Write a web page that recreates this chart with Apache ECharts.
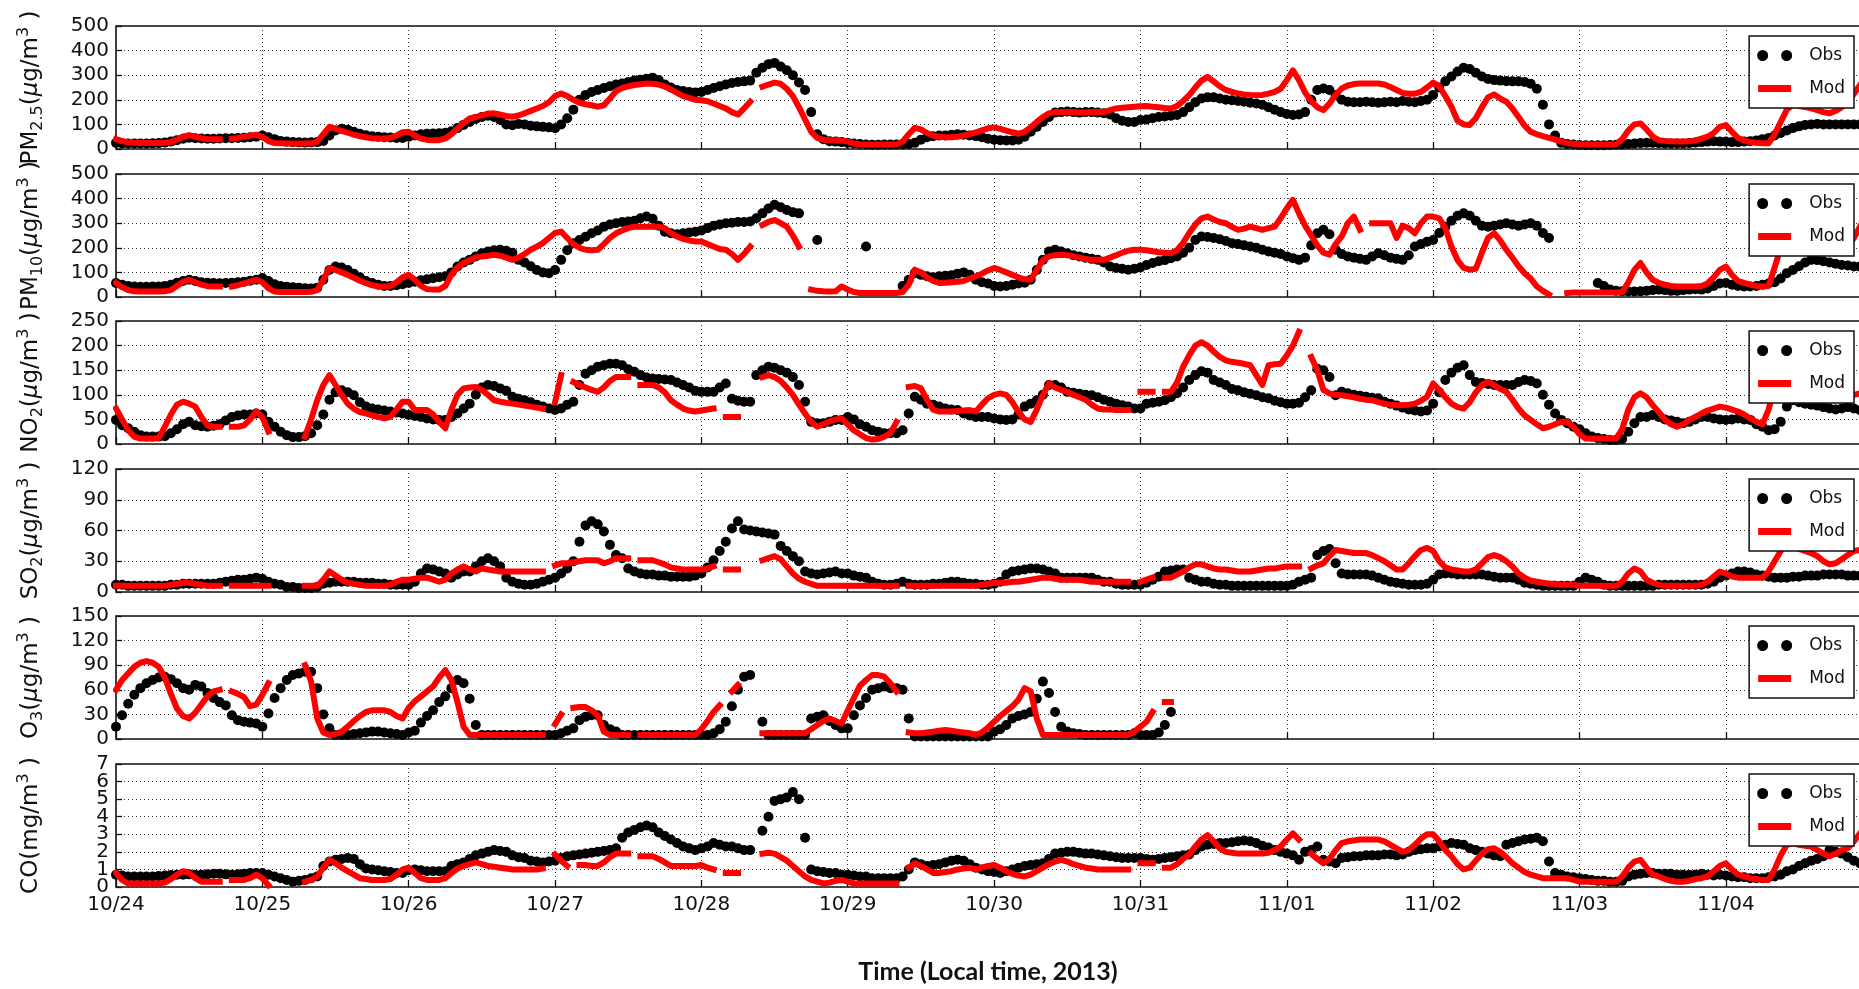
<!DOCTYPE html>
<html><head><meta charset="utf-8">
<script src="https://cdn.jsdelivr.net/npm/echarts@6/dist/echarts.min.js"></script>
<style>html,body{margin:0;padding:0;background:#fff}#c{width:1859px;height:989px}</style>
</head><body><div id="c"></div>
<script>
// x tick labels (one per day, ticks every 24 h)
const dayLabels = ['10/24','10/25','10/26','10/27','10/28','10/29','10/30','10/31','11/01','11/02','11/03','11/04'];

// hourly values, one row per day (hour 0..23)
const obsPM25 = [
[25,23,22,22,22,22,23,24,26,30,36,42,46,44,43,42,42,43,44,44,45,46,48,50],
[55,48,40,33,30,28,27,26,27,28,33,55,75,82,78,70,62,56,52,50,48,47,45,45],
[50,55,60,62,63,64,66,72,85,98,110,122,130,135,130,118,100,97,102,100,95,92,90,88],
[84,100,125,160,200,220,232,240,248,255,262,266,272,278,282,286,290,280,262,250,240,236,232,230],
[232,240,248,255,262,268,272,275,278,310,330,345,350,335,320,300,270,240,150,60,40,32,30,28],
[25,22,20,18,17,17,18,18,18,19,20,25,38,48,52,55,55,58,60,58,55,52,48,42],
[38,36,35,35,38,50,70,90,110,130,148,150,152,150,148,150,150,148,145,140,125,115,110,110],
[118,120,125,130,132,135,138,150,170,190,205,210,210,205,200,198,195,192,188,185,180,170,160,150],
[142,138,140,150,200,240,246,240,220,200,192,190,190,192,190,188,190,192,190,195,192,190,195,200],
[220,250,275,295,315,330,325,310,295,285,280,278,276,275,275,272,265,245,180,100,55,25,20,18],
[16,15,15,15,15,16,17,18,20,22,24,25,25,24,23,22,22,22,24,26,28,30,32,30],
[30,28,28,30,32,35,40,45,55,65,75,85,92,98,100,102,100,100,100,100,100,100,100]];
const modPM25 = [
[40,32,27,25,24,24,24,24,25,28,38,50,56,50,44,41,40,40,null,42,45,50,55,57],
[50,32,24,23,22,22,22,22,23,30,60,90,82,74,66,58,52,48,44,43,43,46,55,68],
[70,55,42,37,36,36,43,60,84,105,124,130,137,143,145,140,134,131,136,145,155,165,175,190],
[215,226,215,200,188,182,178,172,178,205,235,248,255,260,263,266,265,262,255,242,228,215,208,200],
[198,194,185,175,165,150,140,165,192,null,253,262,270,265,245,215,170,120,70,45,38,36,36,34],
[30,22,19,18,18,18,18,18,19,30,60,86,80,65,55,50,48,48,50,55,60,68,76,84],
[88,82,75,68,62,70,88,110,130,145,150,150,150,150,148,148,150,150,150,158,165,168,170,172],
[174,175,172,170,167,165,175,195,219,250,278,293,275,255,240,232,226,222,220,219,220,225,232,245],
[280,320,280,230,195,170,158,185,220,246,258,264,266,266,266,266,262,252,240,228,225,225,232,250],
[270,255,215,172,115,100,98,125,170,210,222,205,192,165,130,95,70,60,52,45,38,30,25,21],
[19,19,18,18,18,18,19,40,75,100,104,80,50,36,33,31,30,30,31,35,42,50,65,90],
[97,70,45,35,28,25,23,23,60,110,160,181,175,170,165,158,150,145,155,170,190,225,260]];

const obsPM10 = [
[57,50,45,43,42,42,43,43,45,50,58,65,70,65,60,58,57,56,57,58,60,62,66,70],
[77,65,52,45,42,40,38,36,35,38,70,110,124,120,110,95,80,65,57,50,45,45,48,52],
[57,62,68,72,76,80,84,100,124,140,151,165,178,185,190,192,188,180,151,140,125,110,100,97],
[110,151,190,219,232,245,259,270,286,295,300,305,307,310,320,327,318,290,265,259,255,259,262,265],
[270,280,290,295,300,302,305,305,307,320,340,360,375,365,354,345,340,null,null,232,null,null,null,null],
[null,null,null,205,null,null,null,null,null,45,70,97,90,84,80,84,86,88,95,100,90,70,60,55],
[45,43,45,50,55,58,70,110,151,185,192,185,178,170,165,160,155,151,140,124,118,115,111,115],
[120,130,138,145,150,158,165,180,200,232,246,244,240,235,228,219,215,210,205,200,192,185,180,175],
[165,158,151,160,210,259,273,255,192,175,165,160,155,151,165,178,170,160,155,151,170,205,215,225],
[232,260,286,310,330,340,330,310,290,286,290,295,300,295,290,295,300,290,260,240,null,null,null,null],
[null,null,null,57,45,30,25,23,22,22,23,25,28,30,28,25,25,28,30,32,30,35,45,55],
[57,50,45,43,43,45,50,55,60,75,97,110,125,140,151,150,145,140,135,130,128,124,124]];
const modPM10 = [
[57,40,28,23,22,22,22,22,23,28,45,62,70,60,50,44,43,43,null,43,48,55,63,70],
[60,35,22,20,20,20,20,20,21,28,70,118,110,100,90,78,66,56,48,44,43,45,60,80],
[90,70,45,32,30,30,45,90,120,138,150,160,165,168,172,168,160,151,160,175,192,205,219,240],
[260,266,240,215,200,192,190,192,215,240,259,270,280,286,286,286,286,286,280,260,246,236,230,226],
[226,215,205,195,192,175,151,175,205,null,293,305,313,300,286,250,205,null,30,25,23,22,23,43],
[30,20,16,16,16,16,16,16,16,20,50,111,100,80,65,57,58,60,62,65,75,84,95,108],
[118,110,100,90,80,72,70,110,150,165,170,172,170,165,160,155,151,151,151,160,170,180,188,192],
[192,190,186,182,180,178,190,220,260,295,320,327,315,305,300,285,273,278,286,280,273,280,286,320],
[360,395,340,290,250,210,180,172,215,246,300,327,273,null,300,300,300,300,240,290,280,259,300,327],
[327,320,280,205,150,118,111,115,180,240,259,230,192,160,125,97,75,43,25,10,null,null,16,18],
[18,18,18,18,18,18,18,20,60,110,138,100,70,57,50,45,43,43,43,43,45,55,80,110],
[124,90,65,57,50,45,43,45,120,200,246,235,225,215,205,195,185,178,190,200,205,240,286]];

const obsNO2 = [
[49,38,32,25,18,15,15,15,16,22,30,40,45,38,36,35,37,40,48,55,58,60,60,62],
[60,45,35,25,18,14,14,16,22,38,60,90,105,109,105,99,85,76,72,70,68,66,64,62],
[59,57,55,52,50,49,49,55,62,72,82,100,115,120,118,113,108,96,92,89,85,80,76,72],
[69,72,80,86,120,143,150,157,160,163,163,160,152,147,140,135,133,132,131,130,125,120,115,108],
[106,106,106,115,123,92,88,86,86,140,150,157,155,150,145,136,120,86,45,42,42,45,49,49],
[55,50,40,35,28,25,22,22,22,28,62,96,90,82,80,76,72,70,69,62,58,55,55,55],
[52,50,49,50,60,76,82,89,100,120,120,115,106,104,102,100,99,95,90,86,82,79,76,72],
[72,82,84,86,89,95,103,115,130,140,148,145,130,125,120,112,109,105,102,99,95,93,88,85],
[82,82,84,95,109,153,150,136,99,106,103,100,98,96,94,93,86,82,78,74,70,68,66,68],
[82,105,130,145,155,160,140,126,124,122,120,120,120,120,126,130,128,123,100,80,62,49,42,35],
[30,22,15,12,10,8,8,10,25,42,55,55,59,55,50,48,45,42,45,50,55,55,52,50],
[49,50,52,50,49,40,35,28,30,45,76,89,85,82,80,78,75,72,70,72,75,72,69]];
const modNO2 = [
[72,50,28,15,11,11,11,12,35,60,80,86,82,76,55,38,35,35,null,35,35,38,50,66],
[55,25,null,null,null,null,null,15,50,89,120,140,120,100,82,72,65,62,58,55,52,55,70,86],
[86,69,69,69,60,45,32,70,100,113,115,116,110,100,89,86,84,82,80,78,76,74,72,null],
[85,140,null,126,120,115,110,106,115,128,136,136,136,null,120,120,120,115,105,89,80,72,68,66],
[68,70,72,null,55,55,55,null,null,null,136,140,136,128,115,100,80,62,45,35,40,46,50,52],
[40,28,20,12,9,10,15,22,45,null,116,118,113,90,70,66,66,66,67,68,69,66,80,93],
[100,103,100,85,65,50,45,70,100,123,115,110,106,100,95,90,80,72,70,70,69,69,69,null],
[106,106,106,null,106,106,125,157,180,200,207,200,188,177,170,167,165,163,160,140,120,160,162,163],
[180,200,228,null,177,150,110,103,100,99,97,95,92,90,89,85,82,80,79,79,80,82,88,96],
[123,110,95,82,75,72,85,105,120,126,120,112,106,90,72,58,49,40,32,35,40,45,45,35],
[20,11,11,11,11,11,11,30,70,95,103,95,79,65,50,40,35,40,49,55,62,68,72,76],
[74,70,66,60,52,45,40,70,116,120,123,115,100,89,89,89,89,89,89,92,96,100,103]];

const obsSO2 = [
[7,7,6,6,6,6,6,6,6,7,7,8,8,8,8,8,8,9,10,11,12,12,13,14],
[13,10,8,7,5,5,4,4,4,5,8,9,10,10,10,10,9,9,9,8,8,7,7,7],
[7,10,18,23,22,20,18,14,17,20,20,25,30,33,30,25,14,10,8,7,7,8,10,12],
[14,18,23,30,49,65,69,66,59,46,36,33,23,20,18,17,17,16,16,15,15,15,15,16],
[18,24,31,40,49,62,69,61,60,59,58,57,56,45,40,35,30,20,18,17,18,19,20,18],
[18,16,15,14,10,8,7,7,8,10,8,7,7,7,8,8,9,10,10,9,8,8,7,7],
[8,10,17,20,21,22,23,23,22,20,18,14,14,14,14,14,14,12,10,10,8,7,7,7],
[7,9,12,15,20,21,22,22,14,12,10,10,8,7,7,6,6,6,6,6,6,6,6,6],
[6,7,10,12,14,36,40,42,28,18,17,17,17,17,16,14,12,10,9,8,7,7,7,8],
[12,17,18,18,17,17,17,17,17,16,15,14,14,14,12,9,8,7,6,6,6,6,6,6],
[10,14,12,10,7,6,6,6,6,6,6,6,6,7,7,7,7,7,7,7,7,8,10,14],
[16,18,20,20,19,17,16,15,14,14,14,15,15,16,16,16,17,17,17,17,16,16,16]];
const modSO2 = [
[6,6,6,6,6,6,6,6,6,7,8,9,9,8,7,6,6,6,null,6,6,6,6,6],
[6,6,null,null,null,null,null,6,6,6,12,20,16,12,9,8,7,6,6,6,6,7,10,12],
[12,13,14,14,12,10,12,18,22,25,22,20,23,22,21,20,20,20,20,20,20,20,20,null],
[26,28,28,29,30,31,31,31,28,30,33,33,33,null,31,31,31,29,27,24,23,22,22,22],
[22,23,25,null,22,22,22,null,null,null,31,33,35,32,25,18,13,10,8,6,6,6,6,6],
[6,6,6,6,6,6,6,6,6,null,6,6,6,6,6,6,6,6,6,6,6,6,7,8],
[9,9,9,10,10,11,12,13,14,14,13,12,12,12,12,11,10,10,10,10,10,10,10,null],
[10,12,14,null,14,14,17,20,24,27,27,25,23,22,22,21,20,20,20,21,22,23,23,24],
[25,25,25,null,23,26,28,35,41,40,39,38,38,38,36,33,30,26,22,22,28,35,41,43],
[40,30,24,22,21,20,20,22,28,34,36,34,30,25,18,14,11,10,9,8,8,7,7,7],
[6,6,6,6,6,6,6,10,18,23,20,12,9,7,6,6,6,6,6,6,7,10,15,20],
[18,15,14,14,14,14,14,20,30,40,46,44,42,40,38,35,30,27,28,32,36,40,41]];

const obsO3 = [
[15,29,43,54,62,68,72,75,76,73,68,62,60,66,64,56,50,45,41,29,23,21,20,19],
[15,31,50,62,72,78,80,82,82,62,30,13,5,5,5,6,7,8,9,9,8,7,6,5],
[8,10,20,28,35,45,52,62,72,68,49,17,5,5,5,5,5,5,5,5,5,5,5,5],
[5,7,10,13,23,27,29,29,17,12,9,5,5,5,5,5,5,5,5,5,5,5,5,5],
[5,5,7,12,21,40,60,76,78,null,21,5,5,5,5,5,5,5,25,27,29,22,17,13],
[13,29,41,50,60,62,64,62,62,60,25,3,3,3,3,3,3,3,3,3,3,3,3,3],
[9,12,17,25,28,30,33,49,70,56,33,15,9,7,6,5,5,5,5,5,5,5,5,7],
[5,5,5,8,17,33],
[],[],[],[]];
const modO3 = [
[60,72,80,88,93,95,93,88,75,55,37,28,25,32,42,52,58,60,null,58,55,51,40,42],
[54,68,null,null,null,null,null,90,70,25,8,5,6,9,15,22,28,33,35,35,35,33,28,25],
[38,46,52,58,64,75,84,72,45,15,5,5,5,5,5,5,5,5,5,5,5,5,5,null],
[18,30,null,38,39,39,35,29,9,5,5,5,5,null,5,5,5,5,5,5,5,5,5,5],
[12,22,33,41,null,58,66,null,null,null,7,7,7,7,7,7,7,7,12,17,22,25,22,19],
[35,50,65,72,78,78,76,68,58,null,8,7,7,8,9,10,11,10,9,8,7,5,8,14],
[21,28,34,40,48,62,58,25,5,5,5,5,5,5,5,5,5,5,5,5,5,5,5,9],
[15,21,33,null,45,45],
[],[],[],[]];

const obsCO = [
[0.7,0.65,0.6,0.6,0.6,0.6,0.6,0.62,0.65,0.68,0.7,0.7,0.72,0.7,0.7,0.72,0.75,0.75,0.72,0.7,0.72,0.75,0.8,0.8],
[0.8,0.7,0.6,0.5,0.4,0.3,0.35,0.4,0.5,0.6,1.2,1.45,1.55,1.6,1.65,1.6,1.3,1.05,1.0,0.95,0.9,0.85,0.8,0.8],
[0.95,1.0,0.95,0.9,0.9,0.9,0.9,1.2,1.3,1.4,1.6,1.8,1.9,2.0,2.1,2.05,2.0,1.8,1.7,1.65,1.5,1.45,1.4,1.45],
[1.5,1.65,1.75,1.8,1.85,1.9,1.95,2.0,2.05,2.1,2.2,2.8,3.1,3.25,3.4,3.5,3.4,3.1,2.9,2.7,2.5,2.3,2.2,2.1],
[2.2,2.3,2.5,2.4,2.3,2.3,2.2,2.1,2.1,null,3.2,4.0,4.9,5.0,5.1,5.4,5.0,2.8,1.0,0.9,0.85,0.8,0.8,0.7],
[0.7,0.65,0.6,0.6,0.5,0.5,0.5,0.5,0.5,0.6,1.0,1.4,1.3,1.2,1.25,1.3,1.4,1.5,1.55,1.5,1.3,1.1,1.0,0.9],
[0.85,0.8,0.9,1.0,1.1,1.2,1.25,1.3,1.35,1.6,1.9,1.95,2.0,2.0,1.95,1.9,1.9,1.85,1.8,1.75,1.7,1.65,1.65,1.65],
[1.65,1.6,1.55,1.6,1.65,1.7,1.75,1.8,1.85,2.1,2.3,2.4,2.45,2.5,2.5,2.55,2.6,2.65,2.6,2.5,2.35,2.25,2.1,2.0],
[1.9,1.8,1.55,2.0,2.1,2.3,1.55,1.45,1.35,1.65,1.7,1.75,1.75,1.8,1.8,1.8,1.85,1.85,1.8,1.85,2.0,2.1,2.15,2.2],
[2.2,2.3,2.4,2.5,2.45,2.4,2.2,2.1,2.0,1.9,1.8,1.75,2.4,2.5,2.6,2.7,2.75,2.8,2.6,1.45,0.8,0.7,0.6,0.55],
[0.5,0.45,0.4,0.35,0.35,0.3,0.3,0.35,0.6,0.7,0.75,0.8,0.8,0.75,0.75,0.75,0.7,0.7,0.7,0.7,0.75,0.7,0.65,0.7],
[0.65,0.6,0.55,0.55,0.5,0.5,0.5,0.55,0.6,0.7,0.9,1.0,1.2,1.35,1.5,1.6,1.75,2.1,2.0,1.9,1.7,1.5,1.35]];
const modCO = [
[0.8,0.4,0.2,0.2,0.2,0.2,0.2,0.2,0.25,0.45,0.7,0.9,0.8,0.5,0.3,0.3,0.3,0.3,null,0.4,0.4,0.4,0.5,0.7],
[0.5,0.1,null,null,null,null,null,0.3,0.4,0.6,1.1,1.55,1.35,1.1,0.9,0.7,0.5,0.45,0.4,0.4,0.4,0.45,0.7,1.0],
[1.1,0.8,0.5,0.4,0.4,0.4,0.5,0.8,1.05,1.2,1.3,1.4,1.3,1.2,1.15,1.1,1.05,1.0,1.0,1.0,1.0,1.0,1.05,null],
[1.85,1.5,1.2,null,1.25,1.25,1.2,1.2,1.4,1.7,1.9,1.9,1.9,null,1.75,1.75,1.75,1.6,1.4,1.2,1.2,1.2,1.2,1.2],
[1.25,1.1,1.0,null,0.8,0.8,0.8,null,null,null,1.9,1.95,1.9,1.7,1.5,1.2,0.9,0.6,0.4,0.3,0.2,0.25,0.35,0.4],
[0.3,0.2,0.2,0.2,0.2,0.2,0.2,0.2,0.2,null,1.1,1.35,1.2,1.0,0.8,0.8,0.85,0.9,1.0,1.05,1.1,1.0,1.1,1.2],
[1.25,1.1,0.9,0.75,0.65,0.6,0.7,0.9,1.1,1.3,1.45,1.55,1.45,1.3,1.2,1.1,1.05,1.0,1.0,1.0,1.0,1.0,1.0,null],
[1.35,1.35,1.35,null,1.1,1.1,1.3,1.6,1.85,2.3,2.7,2.95,2.6,2.2,2.0,1.95,1.9,1.9,1.9,1.9,1.9,1.95,2.1,2.3],
[2.7,3.05,2.7,null,1.9,1.6,1.35,1.6,2.1,2.5,2.6,2.65,2.7,2.7,2.7,2.7,2.6,2.4,2.2,2.0,2.1,2.4,2.75,3.0],
[3.0,2.6,2.1,1.75,1.3,1.0,1.1,1.5,1.9,2.15,2.2,2.0,1.7,1.35,1.1,0.85,0.7,0.6,0.5,0.5,0.5,0.5,0.5,0.4],
[0.3,0.3,0.3,0.3,0.3,0.3,0.3,0.6,1.1,1.45,1.55,1.1,0.7,0.6,0.45,0.35,0.3,0.3,0.35,0.45,0.5,0.6,0.9,1.2],
[1.35,1.0,0.7,0.6,0.5,0.45,0.4,0.4,1.0,1.8,2.4,2.5,2.4,2.35,2.3,2.1,1.9,1.75,1.9,2.1,2.2,2.6,3.05]];

// y-axis labels (rich text) and tick ranges
const yNames = [
 '{a|PM}{s|2.5}{a|(}{m|μ}{a|g/m}{p|3}{a| )}',
 '{a|PM}{s|10}{a|(}{m|μ}{a|g/m}{p|3}{a| )}',
 '{a|NO}{s|2}{a|(}{m|μ}{a|g/m}{p|3}{a| )}',
 '{a|SO}{s|2}{a|(}{m|μ}{a|g/m}{p|3}{a| )}',
 '{a|O}{s|3}{a|(}{m|μ}{a|g/m}{p|3}{a| )}',
 '{a|CO(mg/m}{p|3}{a| )}'];
const yMax = [500, 500, 250, 120, 150, 7];
const yStep = [100, 100, 50, 30, 30, 1];
// CO tick labels are tightly packed; they are split over two overlaid axes
const coTicksEven = [0, 2, 4, 6];
const coTicksOdd = [1, 3, 5, 7];
const obsSets = [obsPM25, obsPM10, obsNO2, obsSO2, obsO3, obsCO];
const modSets = [modPM25, modPM10, modNO2, modSO2, modO3, modCO];
const xTitle = 'Time (Local time, 2013)';

// ---- layout / style ----
const panelTops = [26, 174, 321, 469, 616, 764];
const panelH = 123;
const FONT = 'DejaVu Sans';
const nameRich = {
  a: {fontFamily: FONT, fontSize: 23, color: '#111', lineHeight: 30},
  m: {fontFamily: FONT, fontSize: 23, color: '#111', lineHeight: 30, fontStyle: 'italic'},
  s: {fontFamily: FONT, fontSize: 16, color: '#111', lineHeight: 16, verticalAlign: 'bottom'},
  p: {fontFamily: FONT, fontSize: 16, color: '#111', lineHeight: 16, verticalAlign: 'top'}
};
const obsIcon = 'path://M0,5.5a5.5,5.5 0 1,0 11,0a5.5,5.5 0 1,0 -11,0zM24,5.5a5.5,5.5 0 1,0 11,0a5.5,5.5 0 1,0 -11,0z';
const modIcon = 'path://M0,0M35,11M1,2h33v7h-33z';
const labelStyle = {margin: 7, fontFamily: FONT, fontSize: 20, color: '#111',
  showMinLabel: true, showMaxLabel: true, hideOverlap: false};

function hourly(rows) {
  const out = [];
  rows.forEach((row, d) => row.forEach((v, j) => out.push([d * 24 + j, v])));
  return out;
}

const grids = [], xAxes = [], yAxes = [], series = [], legends = [];
for (let i = 0; i < 6; i++) {
  const last = i === 5;
  grids.push({left: 116, right: -1, top: panelTops[i], height: panelH, show: true,
    borderColor: '#111', borderWidth: 1.6, backgroundColor: 'transparent', outerBoundsMode: 'none', containLabel: false});
  xAxes.push({
    gridIndex: i, type: 'value', min: 0, max: 286, interval: 24,
    axisLine: {show: false},
    axisTick: {show: true, inside: true, length: 7, lineStyle: {color: '#111', width: 1.3}},
    axisLabel: {show: last, margin: 8, fontFamily: FONT, fontSize: 20, color: '#111',
      showMinLabel: true, hideOverlap: false,
      formatter: v => (v % 24 === 0 && dayLabels[v / 24]) ? dayLabels[v / 24] : ''},
    splitLine: {show: true, lineStyle: {color: '#333', width: 1, type: [1, 3]}},
    name: last ? xTitle : '', nameLocation: 'middle', nameGap: 72,
    nameTextStyle: {fontFamily: 'Lato', fontWeight: 'bold', fontSize: 25, color: '#111'}
  });
  const lab = Object.assign({}, labelStyle);
  if (last) lab.customValues = coTicksEven;
  yAxes.push({
    gridIndex: i, type: 'value', min: 0, max: yMax[i], interval: yStep[i],
    axisLine: {show: false},
    axisTick: {show: true, inside: true, length: 6, lineStyle: {color: '#111', width: 1.3}},
    axisLabel: lab,
    splitLine: {show: true, lineStyle: {color: '#333', width: 1, type: [1, 3]}},
    name: yNames[i], nameLocation: 'middle', nameRotate: 90, nameGap: 70,
    nameTextStyle: {rich: nameRich}
  });
  series.push({
    type: 'scatter', name: 'Obs', xAxisIndex: i, yAxisIndex: i,
    data: hourly(obsSets[i]).filter(p => p[1] != null),
    symbol: 'circle', symbolSize: 10, itemStyle: {color: '#000', opacity: 1}, z: 2, silent: true
  });
  series.push({
    type: 'line', name: 'Mod', xAxisIndex: i, yAxisIndex: i,
    data: hourly(modSets[i]), connectNulls: false, showSymbol: false, symbol: 'none',
    lineStyle: {color: '#ff0000', width: 6, cap: 'square', join: 'round'},
    itemStyle: {color: '#ff0000'}, z: 3, silent: true
  });
  legends.push({
    show: true, orient: 'vertical', right: 5, top: panelTops[i] + 10,
    itemWidth: 35, itemHeight: 11, itemGap: 16, padding: [11, 9, 11, 8],
    borderColor: '#111', borderWidth: 1.5, borderRadius: 0, backgroundColor: '#fff',
    selectedMode: false, z: 10,
    textStyle: {fontFamily: FONT, fontSize: 17, color: '#111', padding: [0, 0, 0, 12]},
    data: [
      {name: 'Obs', icon: obsIcon, itemStyle: {color: '#000', borderWidth: 0}},
      {name: 'Mod', icon: modIcon, itemStyle: {color: '#ff0000', borderWidth: 0}}
    ]
  });
}
// overlaid second y axis on the CO panel carrying the odd tick labels
yAxes.push({
  gridIndex: 5, type: 'value', position: 'left', min: 0, max: yMax[5], interval: yStep[5],
  axisLine: {show: false}, axisTick: {show: false}, splitLine: {show: false},
  axisLabel: Object.assign({}, labelStyle, {customValues: coTicksOdd})
});

const chart = echarts.init(document.getElementById('c'), null, {renderer: 'canvas'});
chart.setOption({
  animation: false,
  backgroundColor: '#fff',
  grid: grids, xAxis: xAxes, yAxis: yAxes, legend: legends, series: series
});
</script>
</body></html>
